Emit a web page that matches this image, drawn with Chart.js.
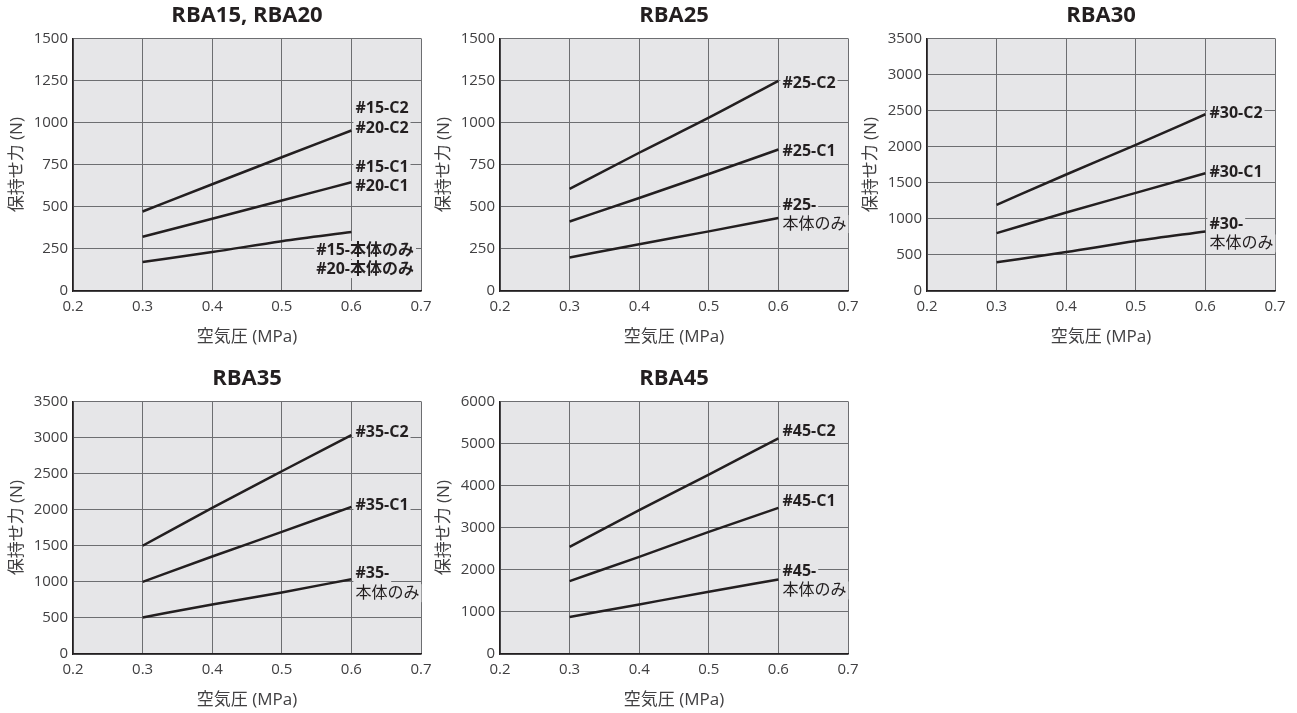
<!DOCTYPE html>
<html>
<head>
<meta charset="utf-8">
<script src="https://cdn.jsdelivr.net/npm/chart.js@4/dist/chart.umd.min.js"></script>
<style>
    body { margin: 0; background: #fff; width: 1297px; height: 713px; overflow: hidden; }
    .box { position: absolute; }
</style>
</head>
<body>
<div class="box" style="left:0px;top:0px"><canvas id="c15" width="440" height="350"></canvas></div>
<div class="box" style="left:427px;top:0px"><canvas id="c25" width="440" height="350"></canvas></div>
<div class="box" style="left:854px;top:0px"><canvas id="c30" width="440" height="350"></canvas></div>
<div class="box" style="left:0px;top:363px"><canvas id="c35" width="440" height="350"></canvas></div>
<div class="box" style="left:427px;top:363px"><canvas id="c45" width="440" height="350"></canvas></div>
<script>
// chart data
const pressure = [0.3, 0.4, 0.5, 0.6];
const xTicks = [0.2, 0.3, 0.4, 0.5, 0.6, 0.7];

const rba15C2 = [472, 634, 794, 953];
const rba15C1 = [322, 429, 537, 646];
const rba15Body = [172, 231, 296, 350];

const rba25C2 = [606, 821, 1029, 1248];
const rba25C1 = [413, 552, 695, 840];
const rba25Body = [199, 278, 354, 433];

const rba30C2 = [1194, 1614, 2024, 2449];
const rba30C1 = [802, 1088, 1360, 1632];
const rba30Body = [397, 540, 692, 825];

const rba35C2 = [1500, 2024, 2532, 3034];
const rba35C1 = [1000, 1351, 1692, 2038];
const rba35Body = [507, 687, 853, 1037];

const rba45C2 = [2545, 3415, 4261, 5123];
const rba45C1 = [1731, 2308, 2901, 3470];
const rba45Body = [877, 1178, 1478, 1771];

// y ranges: [max, step]
const yRange15 = [1500, 250];
const yRange25 = [1500, 250];
const yRange30 = [3500, 500];
const yRange35 = [3500, 500];
const yRange45 = [6000, 1000];

const xTitle = "空気圧 (MPa)";
const yTitle = "保持せ力 (N)";

const FONT = "'Open Sans', 'Noto Sans CJK JP', sans-serif";
const PLOT_BG = "#e6e6e8";
const GRID = "#6d6e71";
const INK = "#231f20";
const TICK = "#414042";

// grey fill behind the plot
const plotBg = {
    id: "plotBg",
    beforeDraw(chart) {
        const { ctx, chartArea: a } = chart;
        ctx.save();
        ctx.fillStyle = PLOT_BG;
        ctx.fillRect(a.left, a.top, a.width, a.height);
        ctx.restore();
    }
};

// text at the end of each line
const endLabels = {
    id: "endLabels",
    afterDatasetsDraw(chart) {
        const { ctx, chartArea: a } = chart;
        chart.data.datasets.forEach((ds, i) => {
            const lab = ds.endLabel;
            if (!lab) return;
            const pts = chart.getDatasetMeta(i).data;
            const last = pts[pts.length - 1];
            ctx.save();
            ctx.textBaseline = "middle";
            lab.lines.forEach((t, k) => {
                const w = k == 0 || !lab.lightSecond ? "bold" : "normal";
                ctx.font = w + " 16px " + FONT;
                const tw = ctx.measureText(t).width;
                const y = last.y + lab.dy[k];
                let x = last.x + 4;
                if (lab.right) x = a.right - 7 - tw;
                ctx.fillStyle = PLOT_BG;
                ctx.fillRect(x - 2, y - 9, tw + 4, 18);
                ctx.fillStyle = INK;
                ctx.textAlign = "left";
                ctx.fillText(t, x, y);
            });
            ctx.restore();
        });
    }
};

function series(vals, label) {
    return {
        data: pressure.map((p, i) => ({ x: p, y: vals[i] })),
        borderColor: INK,
        borderWidth: 2.5,
        pointRadius: 0,
        cubicInterpolationMode: "monotone",
        endLabel: label
    };
}

function makeChart(id, title, range, sets) {
    return new Chart(document.getElementById(id), {
        type: "line",
        data: { datasets: sets },
        plugins: [plotBg, endLabels],
        options: {
            responsive: false,
            animation: false,
            layout: { padding: { left: 0, right: 19, top: 0, bottom: 0 } },
            plugins: {
                legend: { display: false },
                tooltip: { enabled: false },
                title: {
                    display: true,
                    text: title,
                    fullSize: false,
                    color: INK,
                    font: { family: FONT, size: 22, weight: "bold" },
                    padding: { top: 3, bottom: 9 }
                }
            },
            scales: {
                x: {
                    type: "linear",
                    min: 0.2,
                    max: 0.7,
                    afterBuildTicks: (s) => { s.ticks = xTicks.map(v => ({ value: v })); },
                    afterFit: (s) => { s.height = 59; },
                    grid: { color: GRID, lineWidth: 1, drawTicks: false },
                    border: { color: INK, width: 1.5 },
                    ticks: {
                        color: TICK,
                        padding: 7,
                        font: { family: FONT, size: 15 },
                        callback: (v) => Number(v).toFixed(1)
                    },
                    title: {
                        display: true,
                        text: xTitle,
                        color: TICK,
                        font: { family: FONT, size: 17 },
                        padding: { top: 0, bottom: 3 }
                    }
                },
                y: {
                    min: 0,
                    max: range[0],
                    afterFit: (s) => { s.width = 73; },
                    grid: { color: GRID, lineWidth: 1, drawTicks: false },
                    border: { color: INK, width: 1.5 },
                    ticks: {
                        color: TICK,
                        padding: 5,
                        stepSize: range[1],
                        font: { family: FONT, size: 15 },
                        callback: (v) => String(v)
                    },
                    title: {
                        display: true,
                        text: yTitle,
                        color: TICK,
                        font: { family: FONT, size: 17 },
                        padding: { top: 7, bottom: 0 }
                    }
                }
            }
        }
    });
}

makeChart("c15", "RBA15, RBA20", yRange15, [
    series(rba15C2, { lines: ["#15-C2", "#20-C2"], dy: [-22, -2] }),
    series(rba15C1, { lines: ["#15-C1", "#20-C1"], dy: [-15, 4] }),
    series(rba15Body, { lines: ["#15-本体のみ", "#20-本体のみ"], dy: [18, 37], right: true })
]);
makeChart("c25", "RBA25", yRange25, [
    series(rba25C2, { lines: ["#25-C2"], dy: [3] }),
    series(rba25C1, { lines: ["#25-C1"], dy: [2] }),
    series(rba25Body, { lines: ["#25-", "本体のみ"], dy: [-13, 6], lightSecond: true })
]);
makeChart("c30", "RBA30", yRange30, [
    series(rba30C2, { lines: ["#30-C2"], dy: [-1] }),
    series(rba30C1, { lines: ["#30-C1"], dy: [-1] }),
    series(rba30Body, { lines: ["#30-", "本体のみ"], dy: [-7, 12], lightSecond: true })
]);
makeChart("c35", "RBA35", yRange35, [
    series(rba35C2, { lines: ["#35-C2"], dy: [-3] }),
    series(rba35C1, { lines: ["#35-C1"], dy: [-1] }),
    series(rba35Body, { lines: ["#35-", "本体のみ"], dy: [-6, 14], lightSecond: true })
]);
makeChart("c45", "RBA45", yRange45, [
    series(rba45C2, { lines: ["#45-C2"], dy: [-7] }),
    series(rba45C1, { lines: ["#45-C1"], dy: [-6] }),
    series(rba45Body, { lines: ["#45-", "本体のみ"], dy: [-8, 11], lightSecond: true })
]);
</script>
</body>
</html>
